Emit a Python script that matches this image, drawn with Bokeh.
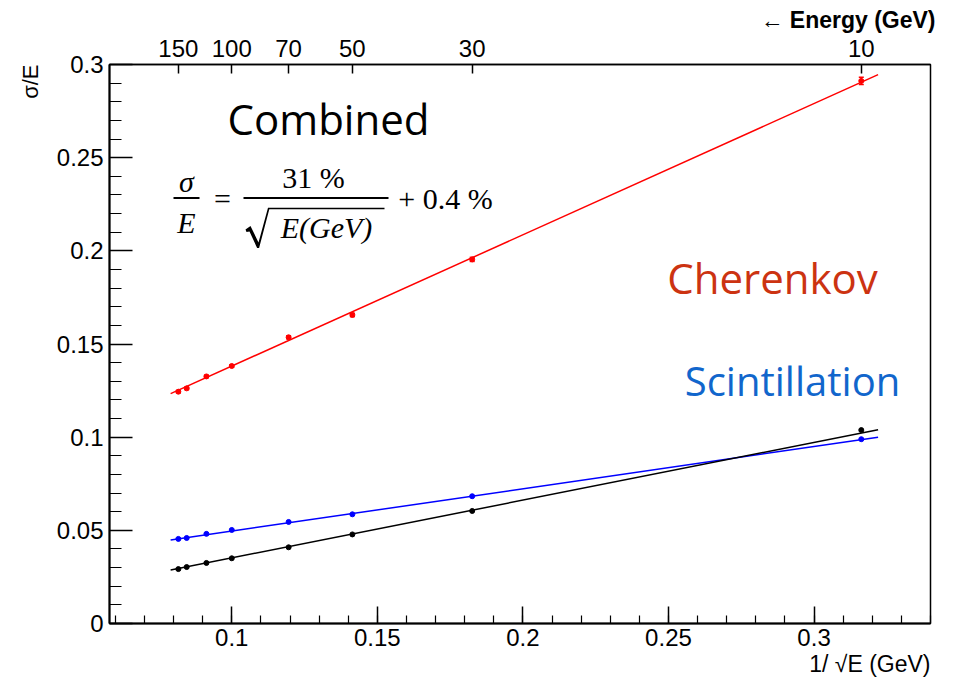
import numpy as np
from bokeh.plotting import figure
from bokeh.models import (Range1d, LinearAxis, FixedTicker, Label, BoxAnnotation, PolyAnnotation,
                          Whisker, ColumnDataSource, TeeHead, CustomJSTickFormatter, Title)
from bokeh.embed import file_html
from bokeh.resources import INLINE

# ---------------- data ----------------
energies = [150, 140, 120, 100, 70, 50, 30, 10]           # GeV
cherenkov = [0.1244, 0.1262, 0.1326, 0.1382, 0.1536, 0.1656, 0.1954, 0.2912]
cherenkov_err = [0.0006, 0.0006, 0.0006, 0.0007, 0.0008, 0.0009, 0.0011, 0.0019]
scintillation = [0.0454, 0.0459, 0.0481, 0.0502, 0.0545, 0.0586, 0.0683, 0.0989]
combined = [0.0292, 0.0303, 0.0325, 0.0350, 0.0409, 0.0478, 0.0604, 0.1038]

# linear fits  sigma/E = slope / sqrt(E) + const
fit_cherenkov = [0.7045, 0.0677]
fit_scintillation = [0.227, 0.0269]
fit_combined = [0.310, 0.0042]
fit_range = [0.079, 0.322]

top_energies = [150, 100, 70, 50, 30, 10]
x_major = [0.1, 0.15, 0.2, 0.25, 0.3]
x_minor = [round(0.06 + 0.01 * i, 2) for i in range(29)]
y_major = [0, 0.05, 0.1, 0.15, 0.2, 0.25, 0.3]
y_minor = [round(0.01 * i, 2) for i in range(31)]

x = 1.0 / np.sqrt(np.array(energies, dtype=float))

# ---------------- figure ----------------
FL, FT, FR, FB = 109, 64, 930, 623   # frame edges in page pixels
W, H = 955, 678
TICKFONT = "Liberation Sans"
TS = "24px"

p = figure(width=W, height=H, x_range=Range1d(0.058, 0.340), y_range=Range1d(0, 0.3),
           output_backend="svg", toolbar_location=None,
           min_border_left=FL, min_border_right=W - FR,
           min_border_top=FT, min_border_bottom=H - FB)
p.grid.visible = False
p.background_fill_color = "white"
p.border_fill_color = "white"
p.outline_line_color = "black"
p.outline_line_width = 1.5

# top label as the plot title (outermost above)
p.title.text = "← Energy (GeV)"
p.title.align = "right"
p.title.offset = -5
p.title.text_font = TICKFONT
p.title.text_font_size = "23px"
p.title.text_font_style = "bold"
p.title.text_color = "black"
p.title.standoff = 7

fmt = CustomJSTickFormatter(code="return String(Math.round(tick*1000)/1000)")

xa = p.xaxis[0]
xa.ticker = FixedTicker(ticks=x_major, minor_ticks=x_minor)
xa.formatter = fmt
xa.major_tick_in = 17
xa.major_tick_out = 0
xa.minor_tick_in = 8
xa.minor_tick_out = 0
xa.axis_line_width = 2
xa.major_tick_line_width = 1.5
xa.minor_tick_line_width = 1.2
xa.major_label_text_font = TICKFONT
xa.major_label_text_font_size = TS
xa.major_label_text_color = "black"
xa.major_label_standoff = 5

ya = p.yaxis[0]
ya.ticker = FixedTicker(ticks=y_major, minor_ticks=y_minor)
ya.formatter = fmt
ya.major_tick_in = 23
ya.major_tick_out = 0
ya.minor_tick_in = 12
ya.minor_tick_out = 0
ya.axis_line_width = 2
ya.major_tick_line_width = 1.5
ya.minor_tick_line_width = 1.2
ya.major_label_text_font = TICKFONT
ya.major_label_text_font_size = TS
ya.major_label_text_color = "black"
ya.major_label_standoff = 6

top_ticks = [float(1.0 / np.sqrt(e)) for e in top_energies]
ta = LinearAxis(ticker=FixedTicker(ticks=top_ticks, minor_ticks=[]),
                formatter=CustomJSTickFormatter(code="return String(Math.round(1/(tick*tick)))"))
ta.major_tick_in = 9
ta.major_tick_out = 0
ta.minor_tick_in = 0
ta.minor_tick_out = 0
ta.axis_line_width = 1.5
ta.major_tick_line_width = 1.5
ta.major_label_text_font = TICKFONT
ta.major_label_text_font_size = TS
ta.major_label_text_color = "black"
ta.major_label_standoff = 8
p.add_layout(ta, "above")

p.add_layout(Title(text="σ/E", align="right", text_font=TICKFONT, text_font_size="22px",
                   text_font_style="normal", text_color="black", standoff=22), "left")
p.add_layout(Title(text="1/ √E (GeV)", align="right", text_font=TICKFONT, text_font_size="23px",
                   text_font_style="normal", text_color="black", standoff=0), "below")

# ---------------- data marks ----------------
xf = np.array(fit_range)
for (sl, c0), col in [(fit_cherenkov, "#ff0000"), (fit_scintillation, "#0000ff"),
                      (fit_combined, "#000000")]:
    p.line(xf, sl * xf + c0, line_color=col, line_width=1.5)

src = ColumnDataSource(dict(x=x, y=cherenkov,
                            lo=np.array(cherenkov) - np.array(cherenkov_err),
                            hi=np.array(cherenkov) + np.array(cherenkov_err)))
p.add_layout(Whisker(source=src, base="x", lower="lo", upper="hi", line_color="#ff0000",
                     line_width=1.5,
                     upper_head=TeeHead(size=5, line_color="#ff0000", line_width=1.5),
                     lower_head=TeeHead(size=5, line_color="#ff0000", line_width=1.5)))
p.scatter(x, cherenkov, size=5, color="#ff0000")
p.scatter(x, scintillation, size=5, color="#0000ff")
p.scatter(x, combined, size=5, color="#000000")

# ---------------- text inside the frame ----------------
def lab(text, px, py, size, font=TICKFONT, color="black", align="center",
        baseline="middle", style="normal", angle=0):
    p.add_layout(Label(x=px - FL, y=FB - py, x_units="screen", y_units="screen",
                       text=text, text_font=font, text_font_size=f"{size}px",
                       text_color=color, text_align=align, text_baseline=baseline,
                       text_font_style=style, angle=angle))

def hbar(x0, x1, py, th=2):
    p.add_layout(BoxAnnotation(left=x0 - FL, right=x1 - FL, bottom=FB - py - th / 2,
                               top=FB - py + th / 2, left_units="screen", right_units="screen",
                               bottom_units="screen", top_units="screen",
                               fill_color="black", fill_alpha=1, line_alpha=0))

lab("Combined", 328, 118, 42, font="Open Sans")
lab("Cherenkov", 772, 277, 42, font="Open Sans", color="#cc3311")
lab("Scintillation", 792, 380, 40, font="Open Sans", color="#1166cc")

SERIF = "Liberation Serif"
lab("σ", 186, 181, 30, font=SERIF, style="italic")
hbar(173, 199, 197.5)
lab("E", 186, 222, 30, font=SERIF, style="italic")
lab("=", 222, 198, 30, font=SERIF)
lab("31 %", 313, 177, 30, font=SERIF)
hbar(243, 388, 197.5)
# radical sign
rad = [(245, 229), (250, 225.5), (258, 242), (267.5, 207.2), (384, 207.2), (384, 208.8),
       (268.8, 208.8), (258.6, 247.5), (256.6, 247.5), (249, 231), (246, 231.5)]
p.add_layout(PolyAnnotation(xs=[a - FL for a, b in rad], ys=[FB - b for a, b in rad],
                            xs_units="screen", ys_units="screen",
                            fill_color="black", fill_alpha=1, line_alpha=0))
lab("E(GeV)", 326, 227, 30, font=SERIF, style="italic")
lab("+ 0.4 %", 445, 198, 30, font=SERIF)

open("out.html", "w").write(file_html(p, INLINE))
